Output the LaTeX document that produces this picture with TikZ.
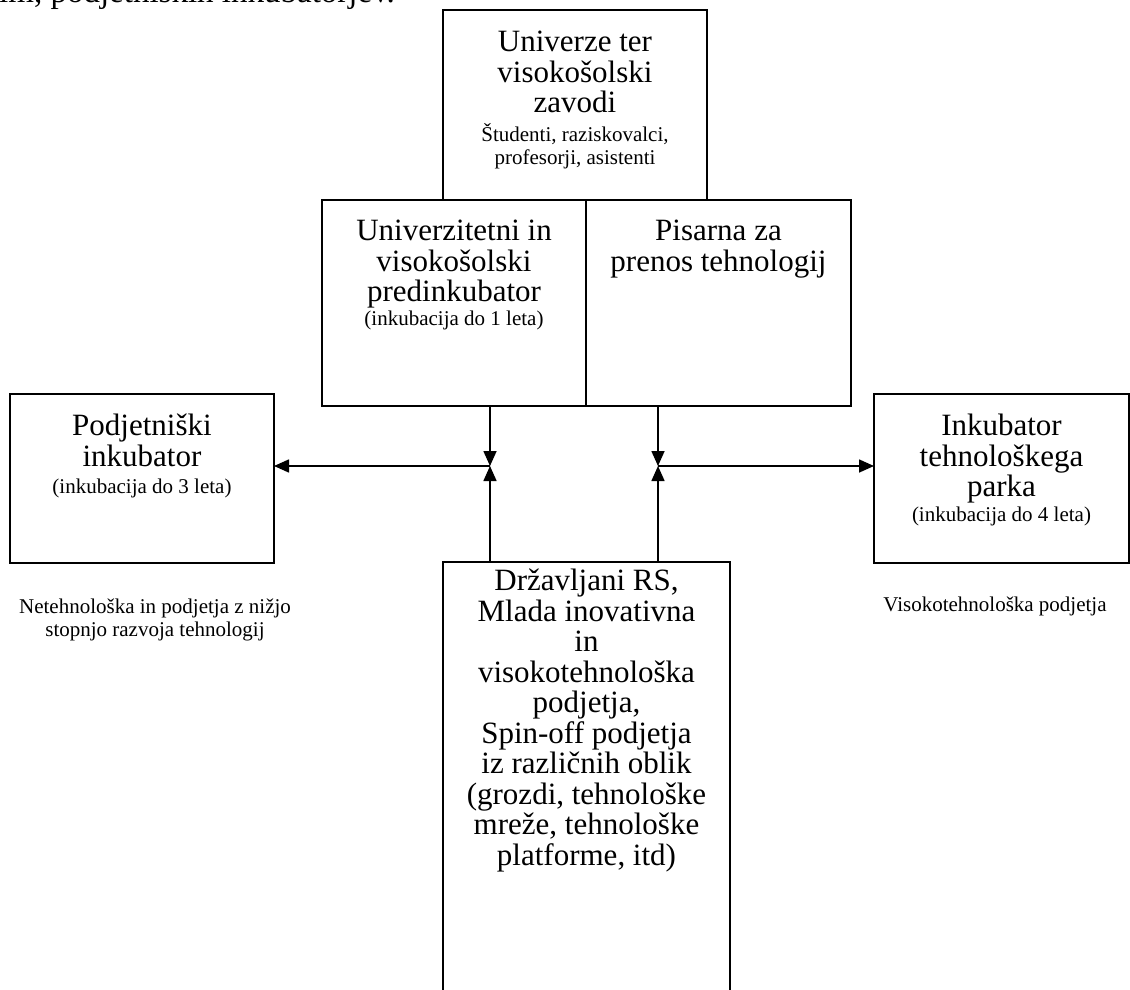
\documentclass[tikz,border=0pt]{standalone}
\usepackage{fontspec}
\setmainfont{Liberation Serif}
\usetikzlibrary{arrows.meta}
\newcommand{\bigfnt}{\fontsize{31pt}{30.5pt}\selectfont}
\newcommand{\smallfnt}{\fontsize{21pt}{23pt}\selectfont}
\newcommand{\bodyfnt}{\fontsize{33pt}{36pt}\selectfont}
\begin{document}
\begin{tikzpicture}[x=1pt,y=-1pt,
  box/.style={draw, line width=1.6pt, inner sep=0pt, outer sep=0pt},
  bigtxt/.style={font=\bigfnt, align=center, inner sep=0pt, anchor=north},
  smalltxt/.style={font=\smallfnt, align=center, inner sep=0pt, anchor=north},
  arr/.style={line width=1.6pt, -{Triangle[length=15pt,width=13pt]}}]
\useasboundingbox (0,0) rectangle (1130,990);
\clip (0,0) rectangle (1130,990);
\fill[white] (0,0) rectangle (1130,990);
% cut-off body text
\node[font=\bodyfnt, anchor=base east, inner sep=0pt] (topline) at (395,3) {im, podjetniških inkubatorjev.};
% boxes
\node[box, minimum width=264pt, minimum height=190pt] (univ) at (575,105) {};
\node[box, minimum width=264pt, minimum height=206pt] (pre) at (454,303) {};
\node[box, minimum width=265pt, minimum height=206pt] (tto) at (718.5,303) {};
\node[box, minimum width=264pt, minimum height=169pt] (pod) at (142,478.5) {};
\node[box, minimum width=255pt, minimum height=169pt] (tp) at (1001.5,478.5) {};
\node[box, minimum width=287pt, minimum height=448pt] (drz) at (586.5,786) {};
% texts
\node[bigtxt] (univT) at (575,31) {Univerze ter\\visokošolski\\zavodi\\[-1.5pt]{\smallfnt Študenti, raziskovalci,}\\[-7.5pt]{\smallfnt profesorji, asistenti}};
\node[bigtxt] (preT) at (454,220) {Univerzitetni in\\visokošolski\\predinkubator\\[-6.5pt]{\smallfnt (inkubacija do 1 leta)}};
\node[bigtxt] (ttoT) at (718.5,220) {Pisarna za\\prenos tehnologij};
\node[bigtxt] (podT) at (142,414) {Podjetniški\\inkubator\\[-3pt]{\smallfnt (inkubacija do 3 leta)}};
\node[bigtxt] (tpT) at (1001.5,414) {Inkubator\\tehnološkega\\parka\\[-5.5pt]{\smallfnt (inkubacija do 4 leta)}};
\node[bigtxt] (drzT) at (586.5,569) {Državljani RS,\\Mlada inovativna\\in\\visokotehnološka\\podjetja,\\Spin-off podjetja\\iz različnih oblik\\(grozdi, tehnološke\\mreže, tehnološke\\platforme, itd)};
\node[smalltxt] (noteL) at (155,599) {Netehnološka in podjetja z nižjo\\stopnjo razvoja tehnologij};
\node[smalltxt] (noteR) at (995,597) {Visokotehnološka podjetja};
% connectors
\coordinate (j1) at (490,466);
\coordinate (j2) at (658,466);
\draw[arr] (pre.south -| j1) -- (j1);
\draw[arr] (tto.south -| j2) -- (j2);
\draw[arr] (drz.north -| j1) -- (j1);
\draw[arr] (drz.north -| j2) -- (j2);
\draw[arr] (j1) -- (pod.east |- j1);
\draw[arr] (j2) -- (tp.west |- j2);
\end{tikzpicture}
\end{document}
